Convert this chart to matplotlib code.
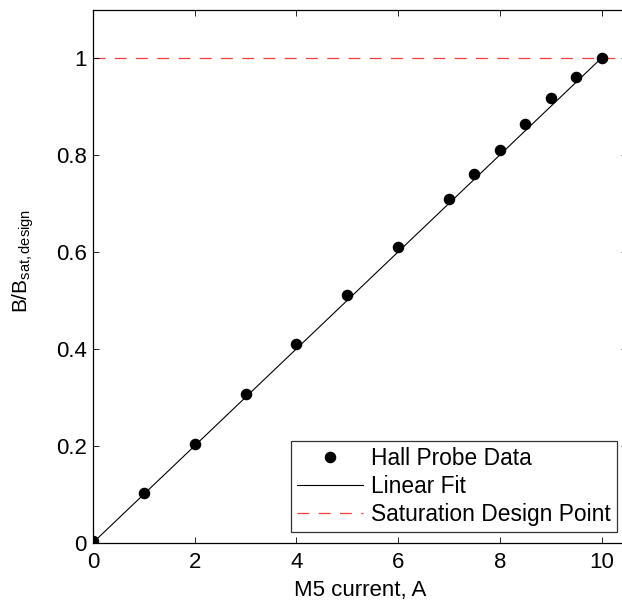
import numpy as np
import matplotlib
matplotlib.use("Agg")
import matplotlib.pyplot as plt

# Hall probe readings, normalised to design saturation field
current = [0, 1, 2, 3, 4, 5, 6, 7, 7.5, 8, 8.5, 9, 9.5, 10]
b_ratio = [0.003, 0.103, 0.203, 0.306, 0.410, 0.510, 0.610, 0.710,
           0.760, 0.810, 0.863, 0.917, 0.960, 1.000]

# linear fit end points
fit_x = [0, 10]
fit_y = [0.0, 1.0]

sat_level = 1.0

xticks = [0, 2, 4, 6, 8, 10]
yticks = [0, 0.2, 0.4, 0.6, 0.8, 1]
ytick_labels = ["0", "0.2", "0.4", "0.6", "0.8", "1"]

plt.rcParams["font.family"] = ["Liberation Sans", "DejaVu Sans"]
plt.rcParams["mathtext.fontset"] = "custom"
plt.rcParams["mathtext.rm"] = "Liberation Sans"
plt.rcParams["mathtext.it"] = "Liberation Sans"

fig = plt.figure(figsize=(6.22, 6.03), dpi=100)
# right spine sits just past the image edge, as in the original crop
ax = fig.add_axes([93 / 622, 60.3 / 603, 534 / 622, 533.2 / 603])

ax.plot(current, b_ratio, "o", color="black", ms=7.3, mec="black",
        label="Hall Probe Data", zorder=3)
ax.plot(fit_x, fit_y, "-", color="black", lw=0.8, label="Linear Fit", zorder=2)
ax.axhline(sat_level, color="#ff3c3c", lw=0.9, ls=(0, (9.5, 7.5)),
           label="Saturation Design Point", zorder=1)

ax.set_xlim(0, 10.5)
ax.set_ylim(0, 1.1)
ax.set_xticks(xticks)
ax.set_xticklabels([str(t) for t in xticks])
ax.set_yticks(yticks)
ax.set_yticklabels(ytick_labels)
ax.tick_params(direction="in", length=4, width=0.6, top=True, right=True,
               labelsize=16)
ax.tick_params(axis="x", pad=7)
ax.tick_params(axis="y", pad=4.5)
for s in ax.spines.values():
    s.set_linewidth(0.9)

ax.set_xlabel("M5 current, A", fontsize=16, labelpad=5)
ax.set_ylabel(r"B/B$_{\mathrm{sat,design}}$", fontsize=15)
ax.yaxis.set_label_coords(-0.106, 0.528)

leg = ax.legend(loc="lower right", bbox_to_anchor=(0.981, 0.02), fontsize=16.4,
                frameon=True, fancybox=False, edgecolor="black",
                handlelength=2.9, handletextpad=0.37, labelspacing=0.23,
                borderpad=0.25, borderaxespad=0.0)
leg.get_frame().set_linewidth(0.9)

fig.savefig("out.png", dpi=100)
